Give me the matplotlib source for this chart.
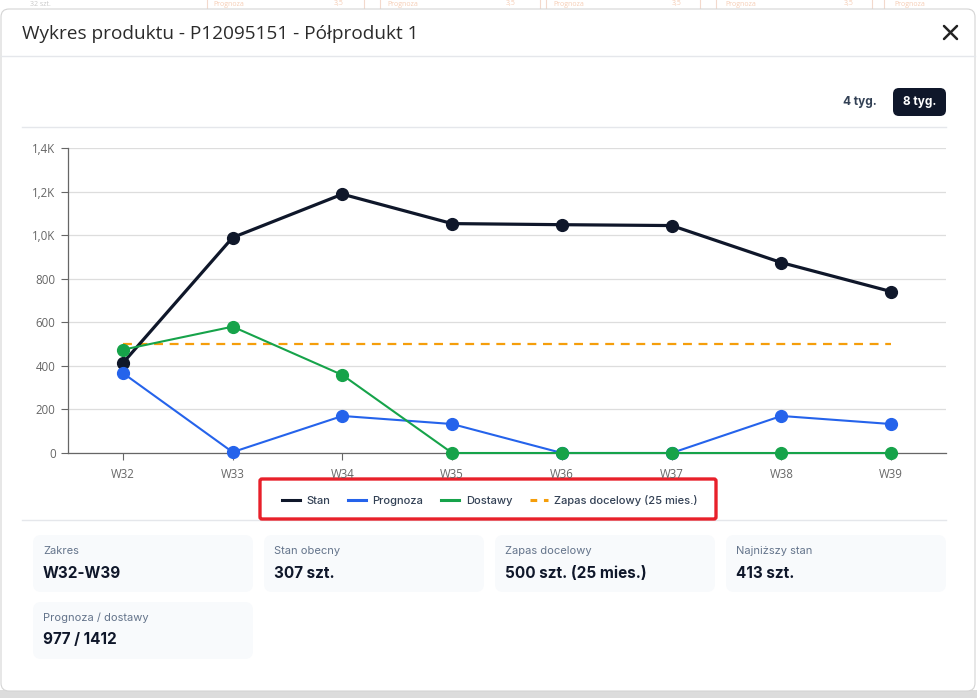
import matplotlib
matplotlib.use("Agg")
import matplotlib.pyplot as plt
from matplotlib.patches import FancyBboxPatch, Rectangle
from matplotlib.lines import Line2D

plt.rcParams['font.family'] = ['Open Sans', 'DejaVu Sans']

weeks = ["W32", "W33", "W34", "W35", "W36", "W37", "W38", "W39"]
stan = [413, 989, 1188, 1053, 1048, 1044, 874, 741]
prognoza = [367, 4, 170, 133, 0, 0, 170, 133]
dostawy = [474, 580, 358, 0, 0, 0, 0, 0]
zapas = [500] * 8
yticks = [0, 200, 400, 600, 800, 1000, 1200, 1400]
ytick_labels = ["0", "200", "400", "600", "800", "1,0K", "1,2K", "1,4K"]

title = "Wykres produktu - P12095151 - Półprodukt 1"
cards = [("Zakres", "W32-W39"), ("Stan obecny", "307 szt."),
         ("Zapas docelowy", "500 szt. (25 mies.)"), ("Najniższy stan", "413 szt."),
         ("Prognoza / dostawy", "977 / 1412")]

W, H = 978, 698
fig = plt.figure(figsize=(W / 100, H / 100), dpi=100)
fig.patch.set_facecolor("white")

# background canvas in pixel coordinates
bg = fig.add_axes([0, 0, 1, 1], zorder=0)
bg.set_xlim(0, W)
bg.set_ylim(H, 0)
bg.axis("off")

# faint table behind the modal (only a sliver shows above it)
for x, s in [(213, "Prognoza"), (334, "3,5"), (387, "Prognoza"), (506, "3,5"),
             (553, "Prognoza"), (672, "3,5"), (725, "Prognoza"), (844, "3,5"),
             (894, "Prognoza")]:
    bg.text(x, 4, s, fontsize=5, color="#f6cdb5", va="center", ha="left")
for x in [207, 364, 380, 540, 546, 700, 716, 872, 884]:
    bg.plot([x, x], [0, 8], color="#f3d9cc", lw=0.8)
bg.text(30, 4, "32 szt.", fontsize=5, color="#c8c8c8", va="center")

# modal shadow and body
bg.add_patch(Rectangle((0, 690), W, 8, facecolor="#dcdcdc", edgecolor="none"))
bg.add_patch(FancyBboxPatch((1, 9), 974, 682, boxstyle="round,pad=0,rounding_size=8",
                            facecolor="white", edgecolor="#d4d4d4", lw=0.8, zorder=2))

bg.text(22, 34, title, fontsize=13.7, color="#2b2b2b", va="center", ha="left", zorder=3)
bg.plot([944, 957], [26, 39], color="#222222", lw=1.8, zorder=3, solid_capstyle="round")
bg.plot([944, 957], [39, 26], color="#222222", lw=1.8, zorder=3, solid_capstyle="round")
bg.plot([1, 975], [56, 56], color="#e5e7eb", lw=1, zorder=3)

# week range buttons
bg.text(860, 102, "4 tyg.", fontsize=8.5, color="#334155", fontweight="bold",
        ha="center", va="center", family=["Inter", "DejaVu Sans"], zorder=3)
bg.add_patch(FancyBboxPatch((893, 88), 53, 28, boxstyle="round,pad=0,rounding_size=6",
                            facecolor="#0f172a", edgecolor="none", zorder=3))
bg.text(919.5, 102, "8 tyg.", fontsize=8.5, color="white", fontweight="bold",
        ha="center", va="center", family=["Inter", "DejaVu Sans"], zorder=4)
bg.plot([22, 946], [127, 127], color="#e5e7eb", lw=1, zorder=3)
bg.plot([22, 946], [520, 520], color="#e5e7eb", lw=1, zorder=3)

# summary cards
card_pos = [(33, 535), (264, 535), (495, 535), (726, 535), (33, 602)]
for (lab, val), (x, y) in zip(cards, card_pos):
    bg.add_patch(FancyBboxPatch((x, y), 220, 57, boxstyle="round,pad=0,rounding_size=8",
                                facecolor="#f8fafc", edgecolor="none", zorder=3))
    bg.text(x + 10, y + 16, lab, fontsize=8, color="#64748b", va="center",
            family=["Inter", "DejaVu Sans"], zorder=4)
    bg.text(x + 10, y + 38, val, fontsize=11, color="#0f172a", fontweight="bold",
            va="center", family=["Inter", "DejaVu Sans"], zorder=4)

# red highlight around legend
bg.add_patch(FancyBboxPatch((260, 479), 456, 40, boxstyle="round,pad=0,rounding_size=2",
                            facecolor="none", edgecolor="#e8202a", lw=2.4, zorder=5))

# chart
ax = fig.add_axes([68 / W, 1 - 453 / H, 878 / W, 305 / H], zorder=1)
ax.patch.set_alpha(0)
x = list(range(len(weeks)))
ax.plot(x, zapas, color="#f59e0b", lw=1.6, ls=(0, (4, 3)), zorder=2,
        label="Zapas docelowy (25 mies.)")
ax.plot(x, stan, color="#0f172a", lw=2.3, marker="o", ms=8.5, zorder=3, label="Stan")
ax.plot(x, prognoza, color="#2563eb", lw=1.5, marker="o", ms=8.5, zorder=4, label="Prognoza")
ax.plot(x, dostawy, color="#16a34a", lw=1.5, marker="o", ms=8.5, zorder=5, label="Dostawy")
ax.set_xlim(-0.5, len(weeks) - 0.5)
ax.set_ylim(0, 1400)
ax.set_xticks(x)
ax.set_xticklabels(weeks)
ax.set_yticks(yticks)
ax.set_yticklabels(ytick_labels)
ax.tick_params(axis="both", colors="#666666", labelcolor="#666666", labelsize=8.3,
               length=5, width=0.8)
ax.tick_params(axis="x", pad=6)
ax.tick_params(axis="y", pad=4)
ax.grid(axis="y", color="#dddddd", lw=0.9)
ax.set_axisbelow(True)
for s in ["top", "right"]:
    ax.spines[s].set_visible(False)
for s in ["left", "bottom"]:
    ax.spines[s].set_color("#666666")
    ax.spines[s].set_linewidth(0.9)
for line in ax.lines:
    line.set_clip_on(False)

handles = [Line2D([], [], color="#0f172a", lw=2.2),
           Line2D([], [], color="#2563eb", lw=2.2),
           Line2D([], [], color="#16a34a", lw=2.2),
           Line2D([], [], color="#f59e0b", lw=2.2, ls=(0, (2.2, 2.2)))]
leg = fig.legend(handles, ["Stan", "Prognoza", "Dostawy", "Zapas docelowy (25 mies.)"],
                 loc="center", bbox_to_anchor=(490 / W, 1 - 500 / H), ncol=4,
                 frameon=False, handlelength=1.6, handletextpad=0.6, columnspacing=1.6,
                 prop={"family": ["Inter", "DejaVu Sans"], "size": 8, "weight": "medium"})
for t in leg.get_texts():
    t.set_color("#334155")

fig.savefig("out.png", dpi=100, facecolor=fig.get_facecolor())
